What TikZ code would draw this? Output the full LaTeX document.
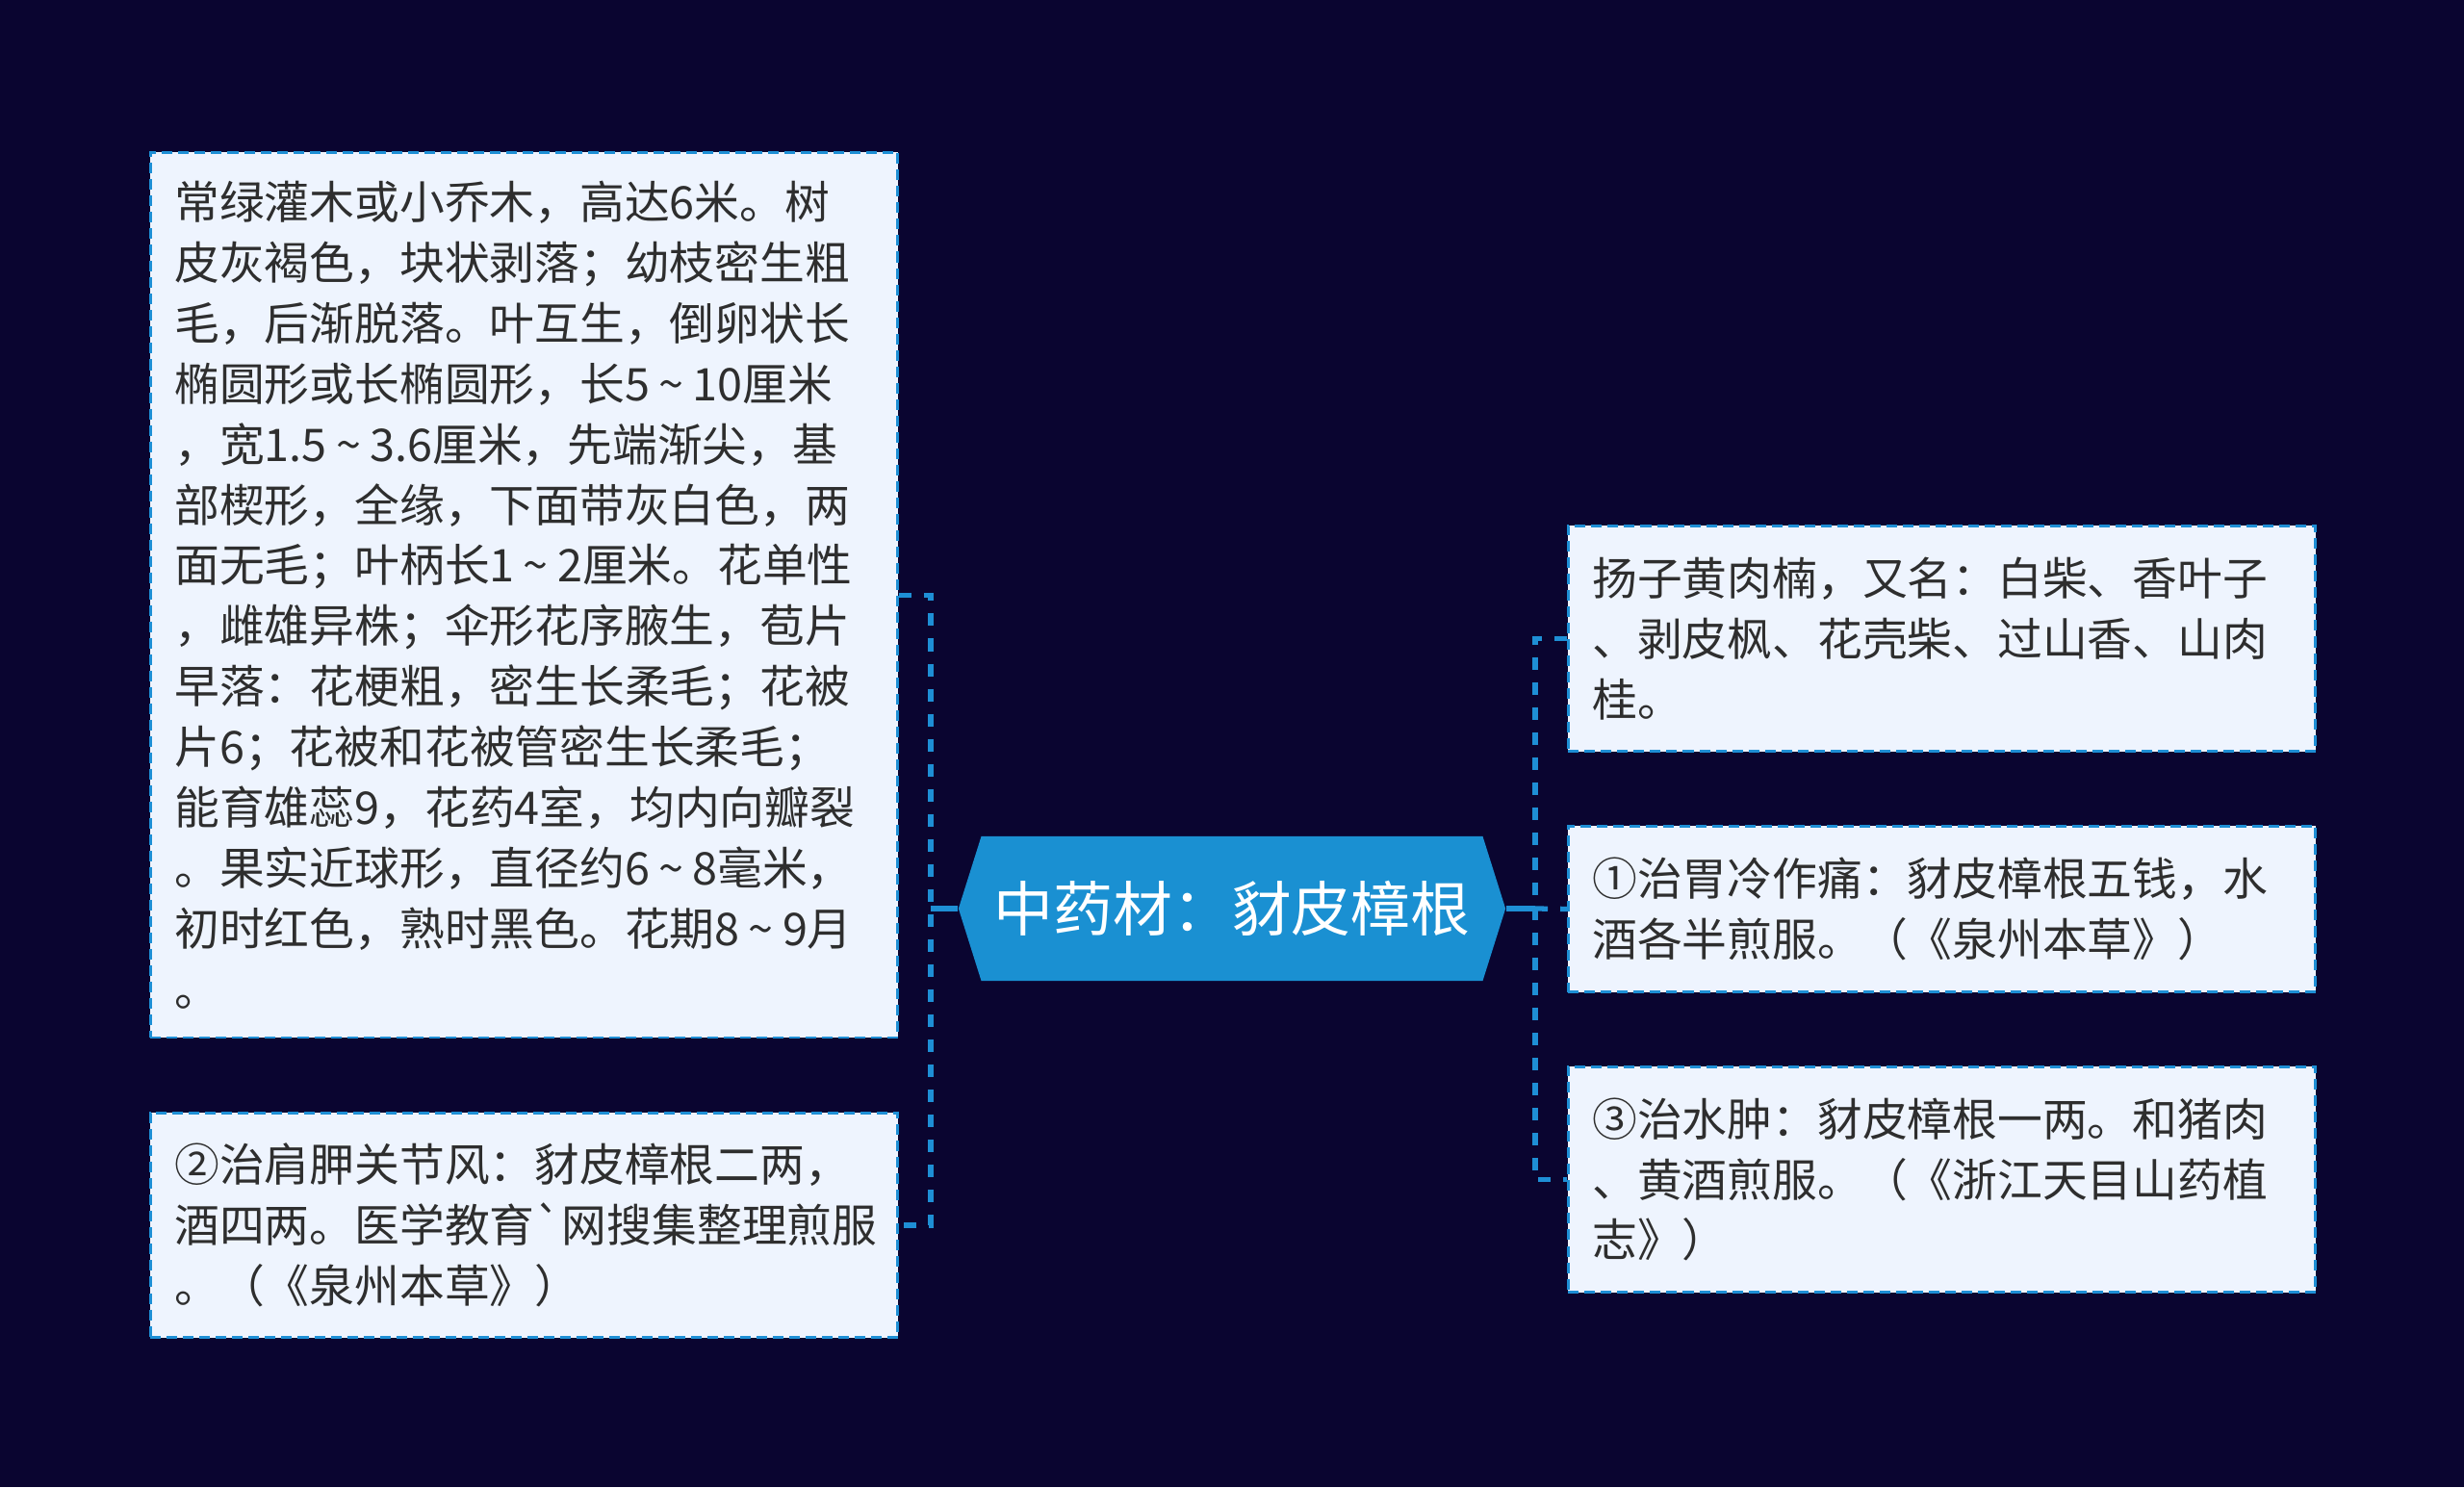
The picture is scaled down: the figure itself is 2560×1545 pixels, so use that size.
\documentclass[tikz,border=0pt]{standalone}
\usepackage{fontspec}
\setmainfont{Noto Sans CJK SC}
\newfontfamily\rawfont{Noto Sans CJK SC}
\usetikzlibrary{shapes.symbols}
\definecolor{bgnavy}{HTML}{0A0530}
\definecolor{boxfill}{HTML}{EEF4FE}
\definecolor{linkblue}{HTML}{1E8FD5}
\definecolor{rootblue}{HTML}{1A90D2}
\definecolor{txtgray}{HTML}{2E2E2E}
\newcommand{\tld}{\makebox[0.95em]{\symbol{126}}}
\newcommand{\grv}{{\rawfont\symbol{96}}}

\begin{document}
\begin{tikzpicture}[x=0.01cm,y=-0.01cm,
  leaf/.style={draw=linkblue, line width=0.8pt, dash pattern=on 0.11cm off 0.06cm,
    fill=boxfill, anchor=north west, text width=7.26cm, inner xsep=0.25cm, inner ysep=0pt,
    minimum width=7.76cm, align=left, text=txtgray, font=\fontsize{13.3pt}{17.9pt}\selectfont},
  rootbox/.style={shape=signal, signal to=west and east, signal pointer angle=145,
    fill=rootblue, text=white, minimum width=5.68cm, minimum height=1.5cm, inner sep=0pt,
    font=\fontsize{17.6pt}{20pt}\selectfont},
  link/.style={linkblue, line width=1.5pt, dash pattern=on 0.13cm off 0.13cm},
  stem/.style={linkblue, line width=1.5pt}]

\fill[bgnavy] (0,0) rectangle (2560,1545);

\node[rootbox] (root) at (1280,944) {中药材：豺皮樟根};

\node[leaf, minimum height=9.19cm] (desc) at (155,157) {常绿灌木或小乔木，高达6米。树\\皮灰褐色，块状剥落；幼枝密生粗\\毛，后渐脱落。叶互生，倒卵状长\\椭圆形或长椭圆形，长5\tld{}10厘米\\，宽1.5\tld{}3.6厘米，先端渐尖，基\\部楔形，全缘，下面带灰白色，两\\面无毛；叶柄长1\tld{}2厘米。花单性\\，雌雄异株；伞形花序腋生，苞片\\早落：花梗粗，密生长柔毛；花被\\片6；花被和花被管密生长柔毛；\\能育雄蕊9，花药4室，均内向瓣裂\\。果实近球形，直径约6\tld{}8毫米，\\初时红色，熟时黑色。花期8\tld{}9月\\。};
\node[leaf, minimum height=2.33cm] (rx2) at (155,1155) {②治肩胛关节风：豺皮樟根二两，\\酒四两。医学教育\grv{}网搜集整理煎服\\。（《泉州本草》）};

\node[leaf, minimum height=2.34cm] (alias) at (1628,545) {扬子黄肉楠，又名：白柴、香叶子\\、剥皮枫、花壳柴、过山香、山肉\\桂。};
\node[leaf, minimum height=1.72cm] (rx1) at (1628,857) {①治胃冷作痛：豺皮樟根五钱，水\\酒各半煎服。（《泉州本草》）};
\node[leaf, minimum height=2.34cm] (rx3) at (1628,1107) {③治水肿：豺皮樟根一两。和猪肉\\、黄酒煎服。（《浙江天目山药植\\志》）};

\coordinate (ljoin) at (967,944);
\coordinate (rjoin) at (1595,944);

\draw[stem] (root.west) -- (ljoin);
\draw[link] (desc.east) -| (ljoin) |- (rx2.east);

\draw[stem] (root.east) -- (rjoin);
\draw[link] (alias.west) -| (rjoin) |- (rx3.west);
\draw[link] (rjoin) -- (rx1.west);
\end{tikzpicture}
\end{document}
